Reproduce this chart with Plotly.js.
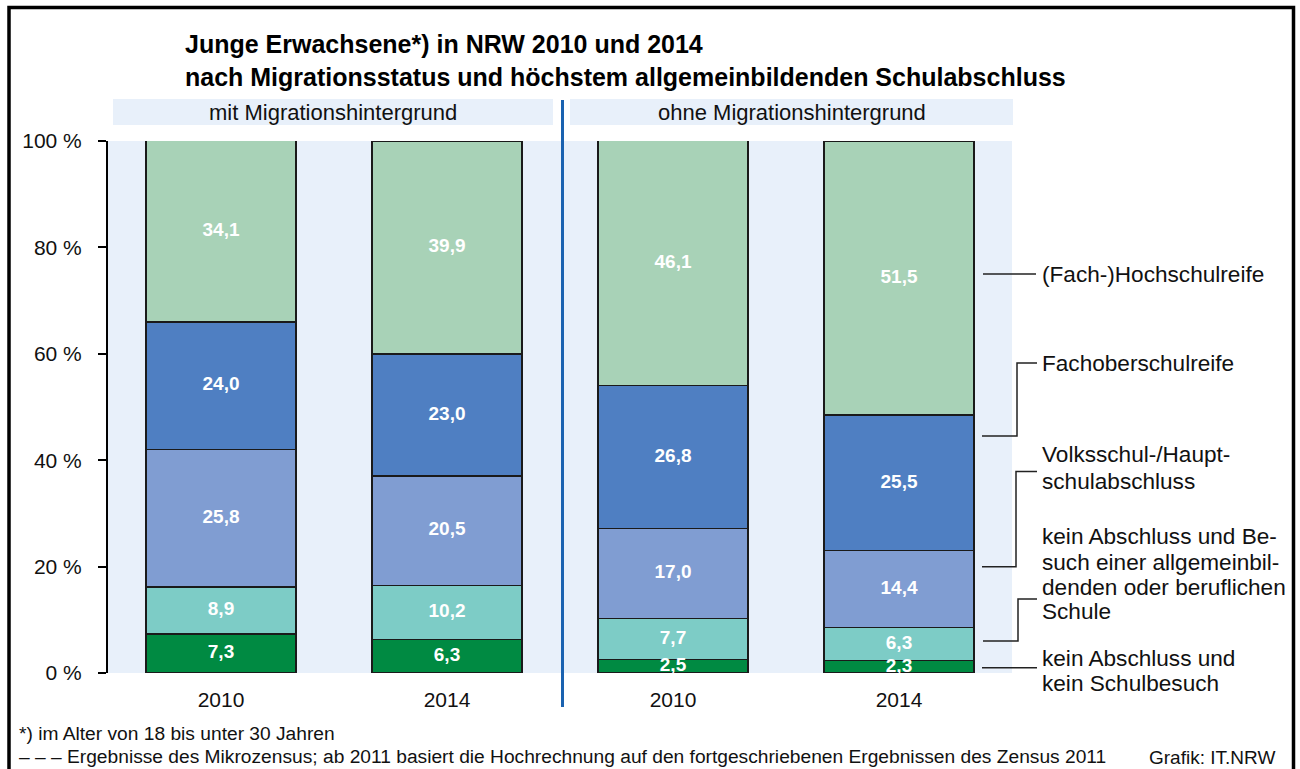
<!DOCTYPE html>
<html>
<head>
<meta charset="utf-8">
<script src="https://cdn.plot.ly/plotly-3.0.1.min.js"></script>
<style>
html,body{margin:0;padding:0;background:#fff;}
#chart{width:1300px;height:769px;}
</style>
</head>
<body>
<div id="chart"></div>
<script>
// ---------- data ----------
const categories = ['mit 2010', 'mit 2014', 'ohne 2010', 'ohne 2014'];
const yearLabels = ['2010', '2014', '2010', '2014'];
const groupLabels = ['mit Migrationshintergrund', 'ohne Migrationshintergrund'];
const seriesNames = [
  'kein Abschluss und kein Schulbesuch',
  'kein Abschluss und Besuch einer allgemeinbildenden oder beruflichen Schule',
  'Volksschul-/Hauptschulabschluss',
  'Fachoberschulreife',
  '(Fach-)Hochschulreife'
];
const legendLines = [
  ['kein Abschluss und', 'kein Schulbesuch'],
  ['kein Abschluss und Be-', 'such einer allgemeinbil-', 'denden oder beruflichen', 'Schule'],
  ['Volksschul-/Haupt-', 'schulabschluss'],
  ['Fachoberschulreife'],
  ['(Fach-)Hochschulreife']
];
const keinSchulbesuch     = [7.3, 6.3, 2.5, 2.3];
const keinAbschlussBesuch = [8.9, 10.2, 7.7, 6.3];
const hauptschulabschluss = [25.8, 20.5, 17.0, 14.4];
const fachoberschulreife  = [24.0, 23.0, 26.8, 25.5];
const hochschulreife      = [34.1, 39.9, 46.1, 51.5];
const yTickVals = [0, 20, 40, 60, 80, 100];
const yTickText = ['0 %', '20 %', '40 %', '60 %', '80 %', '100 %'];
const titleText = 'Junge Erwachsene*) in NRW 2010 und 2014<br>nach Migrationsstatus und höchstem allgemeinbildenden Schulabschluss';
const footnote1 = '*) im Alter von 18 bis unter 30 Jahren';
const footnote2 = '– – – Ergebnisse des Mikrozensus; ab 2011 basiert die Hochrechnung auf den fortgeschriebenen Ergebnissen des Zensus 2011';
const sourceText = 'Grafik: IT.NRW';

// ---------- styling ----------
const series = [keinSchulbesuch, keinAbschlussBesuch, hauptschulabschluss, fachoberschulreife, hochschulreife];
const colors = ['#008a42', '#7dccc6', '#809dd2', '#4f7fc2', '#a8d2b7'];
const FONT = 'Liberation Sans, Arial, sans-serif';

// plot geometry (pixels)
const L = 108, T = 141, W = 904, H = 532;
const px = v => (v - L) / W;
const py = v => (T + H - v) / H;

const traces = [];
series.forEach((vals, i) => {
  traces.push({
    type: 'bar',
    x: categories,
    y: vals,
    name: seriesNames[i],
    marker: {color: colors[i], line: {color: '#1a1a1a', width: 1.4}},
    hoverinfo: 'skip',
    showlegend: false
  });
});

// value labels at segment middles
const lx = [], ly = [], lt = [];
categories.forEach((c, j) => {
  let base = 0;
  series.forEach(vals => {
    lx.push(c);
    ly.push(base + vals[j] / 2);
    lt.push(vals[j].toFixed(1).replace('.', ','));
    base += vals[j];
  });
});
traces.push({
  type: 'scatter', mode: 'text', x: lx, y: ly, text: lt,
  textfont: {family: FONT, size: 19, color: '#ffffff', weight: 'bold'},
  textposition: 'middle center', hoverinfo: 'skip', showlegend: false, cliponaxis: false
});

const shapes = [];
const annotations = [];

// outer frame
shapes.push({type: 'rect', xref: 'paper', yref: 'paper', x0: px(9), x1: px(1293.5), y0: py(7.5), y1: py(820),
  line: {color: '#000', width: 3.5}, fillcolor: 'rgba(0,0,0,0)', layer: 'above'});

// group header boxes
const headerBoxes = [[113, 553], [570, 1013]];
headerBoxes.forEach((b, i) => {
  shapes.push({type: 'rect', xref: 'paper', yref: 'paper', x0: px(b[0]), x1: px(b[1]), y0: py(125), y1: py(99),
    fillcolor: '#e8f0fa', line: {width: 0}, layer: 'below'});
  annotations.push({xref: 'paper', yref: 'paper', x: px((b[0] + b[1]) / 2), y: py(112.5), text: groupLabels[i],
    showarrow: false, xanchor: 'center', yanchor: 'middle', font: {family: FONT, size: 22, color: '#111'}});
});

// separator
shapes.push({type: 'line', xref: 'paper', yref: 'paper', x0: px(562.5), x1: px(562.5), y0: py(100), y1: py(707),
  line: {color: '#1a62b0', width: 3}});

// leader lines
const leaders = [
  [[982, 667.7], [1037, 667.7]],
  [[983, 641], [1018, 641], [1018, 599], [1037, 599]],
  [[982, 566.7], [1016, 566.7], [1016, 471.5], [1037, 471.5]],
  [[982, 436], [1017, 436], [1017, 363], [1037, 363]],
  [[983, 274], [1036, 274]]
];
leaders.forEach(pts => {
  const path = pts.map((p, k) => (k ? 'L' : 'M') + px(p[0]) + ',' + py(p[1])).join(' ');
  shapes.push({type: 'path', xref: 'paper', yref: 'paper', path: path, line: {color: '#222', width: 1.5}});
});

// legend labels
const legendY = [[658, 683], [536, 562, 587.5, 611.5], [454, 481], [363], [274]];
legendLines.forEach((lines, i) => {
  lines.forEach((t, k) => {
    annotations.push({xref: 'paper', yref: 'paper', x: px(1040), y: py(legendY[i][k]), text: t,
      showarrow: false, xanchor: 'left', yanchor: 'middle', font: {family: FONT, size: 22.6, color: '#111'}});
  });
});

// footnotes
annotations.push({xref: 'paper', yref: 'paper', x: px(17), y: py(733), text: footnote1, showarrow: false,
  xanchor: 'left', yanchor: 'middle', font: {family: FONT, size: 19.2, color: '#111'}});
annotations.push({xref: 'paper', yref: 'paper', x: px(17), y: py(756), text: footnote2, showarrow: false,
  xanchor: 'left', yanchor: 'middle', font: {family: FONT, size: 19.2, color: '#111'}});
annotations.push({xref: 'paper', yref: 'paper', x: px(1147), y: py(757), text: sourceText, showarrow: false,
  xanchor: 'left', yanchor: 'middle', font: {family: FONT, size: 19, color: '#111'}});

const layout = {
  width: 1300, height: 769,
  margin: {l: L, r: 1300 - L - W, t: T, b: 769 - T - H, pad: 0},
  paper_bgcolor: '#ffffff',
  plot_bgcolor: '#e8f0fa',
  barmode: 'stack',
  bargap: 0.336,
  showlegend: false,
  hovermode: false,
  title: {
    text: '<b>' + titleText + '</b>',
    x: 185 / 1300, xanchor: 'left', xref: 'container',
    y: 1 - 53 / 769, yanchor: 'top', yref: 'container',
    font: {family: FONT, size: 25, color: '#000'}
  },
  xaxis: {
    type: 'category', range: [-0.5, 3.5],
    tickvals: categories, ticktext: yearLabels,
    showline: false, showgrid: false, zeroline: false, ticks: '',
    ticklabelstandoff: 12,
    tickfont: {family: FONT, size: 21, color: '#111'},
    fixedrange: true
  },
  yaxis: {
    range: [0, 100],
    tickvals: yTickVals, ticktext: yTickText,
    showline: true, linecolor: '#000', linewidth: 2,
    ticks: 'outside', ticklen: 8, tickwidth: 2, tickcolor: '#000',
    ticklabelstandoff: 12,
    showgrid: false, zeroline: false,
    tickfont: {family: FONT, size: 21, color: '#111'},
    fixedrange: true
  },
  shapes: shapes,
  annotations: annotations
};

Plotly.newPlot('chart', traces, layout, {displayModeBar: false, staticPlot: true});
</script>
</body>
</html>
